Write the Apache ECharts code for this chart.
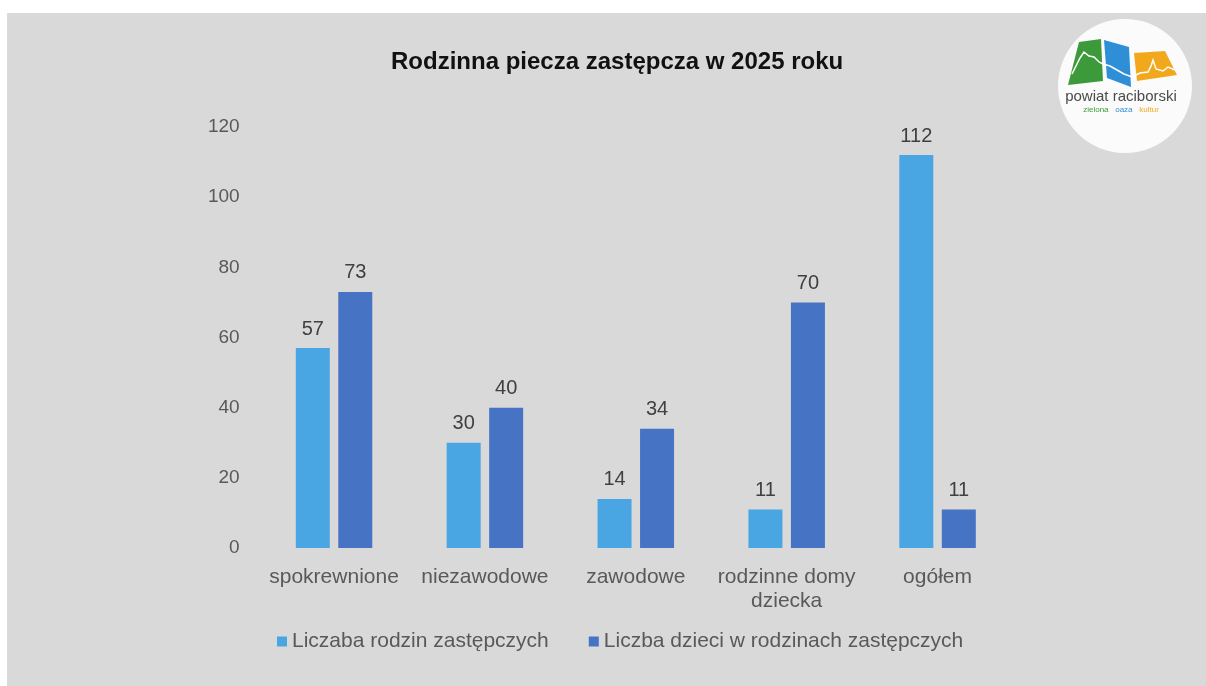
<!DOCTYPE html>
<html>
<head>
<meta charset="utf-8">
<script src="https://cdn.jsdelivr.net/npm/echarts@6/dist/echarts.min.js"></script>
<style>
html,body{margin:0;padding:0;background:#ffffff;}
#chart{width:1206px;height:686px;}
</style>
</head>
<body>
<div id="chart"></div>
<script>
const titleText = 'Rodzinna piecza zastępcza w 2025 roku';
const categories = ['spokrewnione', 'niezawodowe', 'zawodowe', 'rodzinne domy dziecka', 'ogółem'];
const seriesNames = ['Liczaba rodzin zastępczych', 'Liczba dzieci w rodzinach zastępczych'];
const rodziny = [57, 30, 14, 11, 112];
const dzieci = [73, 40, 34, 70, 11];
const yTicks = [0, 20, 40, 60, 80, 100, 120];

const FONT = '"Liberation Sans", Arial, sans-serif';
const chart = echarts.init(document.getElementById('chart'), null, {renderer: 'canvas'});

const logo = [
  {type: 'rect', shape: {x: 7, y: 13, width: 1199, height: 673}, style: {fill: '#d9d9d9'}, z: -10, silent: true},
  {type: 'circle', shape: {cx: 1125, cy: 86, r: 67}, style: {fill: '#fbfbfb'}, z: 1},
  {type: 'polygon', shape: {points: [[1068, 85], [1079, 42], [1101, 39], [1103, 81]]}, style: {fill: '#3c9a3a'}, z: 2},
  {type: 'polygon', shape: {points: [[1104, 40], [1129, 47], [1131, 87], [1107, 78]]}, style: {fill: '#2f8fd6'}, z: 2},
  {type: 'polygon', shape: {points: [[1134, 53], [1165, 51], [1177, 75], [1137, 81]]}, style: {fill: '#f2a81d'}, z: 2},
  {type: 'polyline', shape: {points: [[1072, 74], [1080, 58], [1084, 52], [1089, 56], [1094, 57], [1099, 62], [1103, 64], [1110, 66], [1117, 70], [1124, 74], [1132, 77], [1140, 73], [1148, 72], [1151, 66], [1153, 60], [1156, 69], [1163, 71], [1168, 67], [1175, 70]]},
    style: {stroke: '#ffffff', lineWidth: 1.5, fill: null}, z: 3},
  {type: 'text', x: 1121, y: 97, style: {text: 'powiat raciborski', font: '15px ' + FONT, fill: '#4a4a4a', align: 'center', verticalAlign: 'middle'}, z: 3},
  {type: 'text', x: 1121, y: 110, style: {rich: {g: {fill: '#3c9a3a', font: '8px ' + FONT}, b: {fill: '#2f8fd6', font: '8px ' + FONT}, o: {fill: '#f2a81d', font: '8px ' + FONT}}, text: '{g|zielona}  {b|oaza}  {o|kultur}', align: 'center', verticalAlign: 'middle'}, z: 3}
];

chart.setOption({
  backgroundColor: '#ffffff',
  animation: false,
  graphic: logo,
  title: {
    text: titleText,
    left: 386,
    top: 45,
    textStyle: {fontFamily: FONT, fontSize: 24, fontWeight: 'bold', color: '#111111'}
  },
  legend: {
    left: 272,
    top: 626,
    itemWidth: 10,
    itemHeight: 10,
    itemGap: 40,
    icon: 'rect',
    textStyle: {fontFamily: FONT, fontSize: 21, color: '#595959'},
    data: seriesNames
  },
  grid: {left: 258.6, right: 193, top: 127, bottom: 138, containLabel: false},
  xAxis: {
    type: 'category',
    data: categories,
    axisLine: {show: false},
    axisTick: {show: false},
    axisLabel: {
      fontFamily: FONT, fontSize: 21, color: '#595959', margin: 17, lineHeight: 24, interval: 0,
      formatter: v => v.replace('domy ', 'domy\n')
    }
  },
  yAxis: {
    type: 'value',
    min: yTicks[0],
    max: yTicks[yTicks.length - 1],
    interval: yTicks[1] - yTicks[0],
    axisLine: {show: false},
    axisTick: {show: false},
    splitLine: {show: false},
    axisLabel: {fontFamily: FONT, fontSize: 19, color: '#595959', margin: 19}
  },
  series: [
    {
      name: seriesNames[0], type: 'bar', data: rodziny, barWidth: 34, barGap: '25%',
      itemStyle: {color: '#4aa6e3'},
      label: {show: true, position: 'top', distance: 9, fontFamily: FONT, fontSize: 20, color: '#404040'}
    },
    {
      name: seriesNames[1], type: 'bar', data: dzieci, barWidth: 34,
      itemStyle: {color: '#4673c4'},
      label: {show: true, position: 'top', distance: 9, fontFamily: FONT, fontSize: 20, color: '#404040'}
    }
  ]
});
</script>
</body>
</html>
